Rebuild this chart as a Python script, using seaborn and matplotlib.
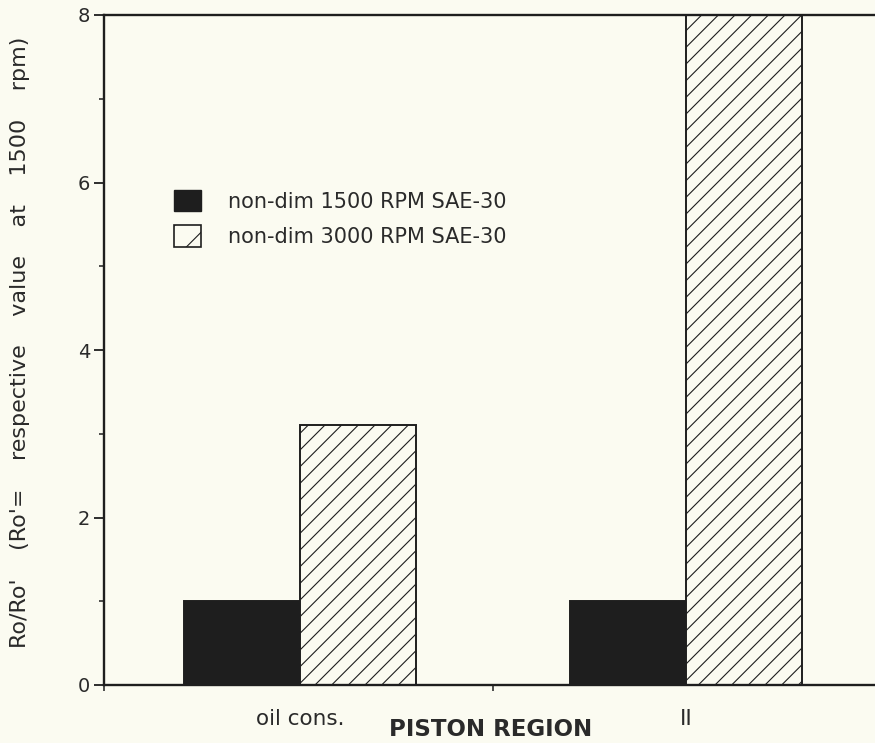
import matplotlib
matplotlib.use("Agg")
import matplotlib.pyplot as plt
import seaborn as sns
import pandas as pd
from matplotlib.patches import Patch
from matplotlib.ticker import FixedLocator

categories = ["oil cons.", "II"]
series_names = ["non-dim 1500 RPM SAE-30", "non-dim 3000 RPM SAE-30"]
values_1500 = [1.0, 1.0]
values_3000 = [3.1, 8.0]
y_ticks = [0, 2, 4, 6, 8]

bg = "#fbfbf1"
ink = "#1e1e1e"
sns.set_theme(style="white")
plt.rcParams["font.family"] = ["DejaVu Sans"]
plt.rcParams["hatch.linewidth"] = 0.8
plt.rcParams["hatch.color"] = "#4a4a4a"

df = pd.DataFrame({
    "region": categories * 2,
    "series": [series_names[0]] * 2 + [series_names[1]] * 2,
    "value": values_1500 + values_3000,
})

fig = plt.figure(figsize=(8.75, 7.43), dpi=100, facecolor=bg)
ax = fig.add_axes([104 / 875, 1 - 685 / 743, 775 / 875, 670 / 743])
ax.set_facecolor(bg)

sns.barplot(data=df, x="region", y="value", hue="series", order=categories,
            hue_order=series_names, palette=[ink, bg], width=0.6,
            saturation=1, edgecolor=ink, linewidth=1.4, ax=ax, legend=False)
for p in ax.containers[1]:
    p.set_hatch("//")
    p.set_edgecolor(ink)

xmin = -0.508
ax.set_xlim(xmin, 1.5)
ax.set_ylim(0, 8)

for s in ["left", "bottom", "top"]:
    ax.spines[s].set_visible(True)
    ax.spines[s].set_color(ink)
    ax.spines[s].set_linewidth(1.7)
ax.spines["right"].set_visible(False)

ax.set_yticks(y_ticks)
ax.set_yticklabels([str(t) for t in y_ticks], fontsize=14, color="#2a2a2a")
ax.yaxis.set_minor_locator(FixedLocator([1, 3, 5, 7]))
ax.tick_params(axis="y", which="major", direction="out", length=7, width=1.3,
               color=ink, left=True, pad=3)
ax.tick_params(axis="y", which="minor", direction="out", length=3.5, width=1.1,
               color=ink, left=True)

ax.set_xticks([0, 1])
ax.set_xticklabels(categories, fontsize=15.5, color="#2a2a2a")
ax.xaxis.set_minor_locator(FixedLocator([xmin, 0.5]))
ax.tick_params(axis="x", which="major", length=0, pad=17)
ax.tick_params(axis="x", which="minor", direction="out", length=4, width=1.1,
               color=ink, bottom=True)

ax.set_xlabel("")
ax.set_ylabel("Ro/Ro'    (Ro'=    respective    value    at    1500    rpm)", fontsize=16,
              color="#2a2a2a")
ax.yaxis.set_label_coords((30 - 104) / 775, (685 - 342) / 670)
fig.text(491 / 875, 1 - 736 / 743, "PISTON REGION", ha="center", va="baseline",
         fontsize=16.5, fontweight="bold", color="#2a2a2a")

handles = [Patch(facecolor=ink, edgecolor=ink),
           Patch(facecolor=bg, edgecolor=ink, hatch="/", linewidth=1.2)]
leg = ax.legend(handles, series_names, loc="upper left",
                bbox_to_anchor=(174 / 875, 1 - 190 / 743), bbox_transform=fig.transFigure,
                frameon=False, fontsize=15, handlelength=1.3, handleheight=1.2,
                handletextpad=1.3, labelspacing=0.65, borderaxespad=0, borderpad=0)
for t in leg.get_texts():
    t.set_color("#2a2a2a")

fig.savefig("out.png", dpi=100, facecolor=bg)
